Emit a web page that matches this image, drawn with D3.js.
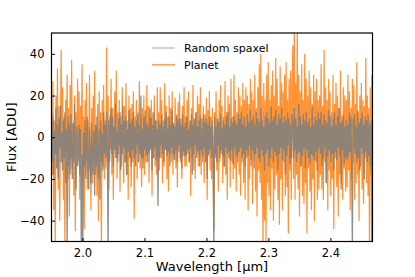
<!DOCTYPE html>
<html>
<head>
<meta charset="utf-8">
<script src="https://cdn.jsdelivr.net/npm/d3@7"></script>
<style>
    body { margin: 0; background: #fff; }
    text { font-family: "DejaVu Sans", sans-serif; fill: #000; }
</style>
</head>
<body>
<script>
const WAVE_START = 1.95;
const WAVE_END = 2.468;

const X_TICKS = [2.0, 2.1, 2.2, 2.3, 2.4];
const Y_TICKS = [-40, -20, 0, 20, 40];

const SERIES_NAMES = ['Random spaxel', 'Planet'];

const planetFlux = [
    12,-18,27,-35,8,-52,20,-8,33,-25,15,-40,5,42,-12,24,-30,10,-55,18,-6,30,-20,14,-38,25,-10,37,-15,6,-28,20,-45,12,-5,28,
    -10,22,-30,15,-8,35,-20,10,-44,18,-12,26,-25,8,-16,30,-6,-35,14,-22,20,-10,32,-18,5,-28,16,-40,22,-8,12,-55,18,-14,25,-20,
    8,-15,43,-12,20,-25,10,-6,28,-18,14,-30,6,22,-10,32,-20,12,-8,18,-26,10,-14,24,-6,-22,15,-12,26,-18,8,-30,20,-10,14,-24,
    16,-12,22,-39,10,-8,18,-20,12,-6,27,-15,9,-24,14,-10,20,-18,6,-12,25,-8,15,-22,10,-5,18,-28,12,-10,20,-14,8,-18,24,-9,
    12,-16,24,-10,18,-22,8,-14,26,-6,15,-20,10,-26,20,-8,14,-12,22,-18,6,-10,19,-15,11,-24,17,-7,21,-12,9,-20,15,-9,24,-14,
    10,-14,18,-8,22,-12,6,-28,14,-10,25,-16,8,-20,12,-6,20,-14,16,-10,24,-18,9,-12,15,-22,11,-8,19,-30,13,-9,22,-16,10,-20,
    14,-20,-45,12,-10,22,-16,8,-26,18,-12,25,-8,15,-22,10,-14,27,-18,12,-30,20,-10,16,-24,28,-12,10,-20,30,-15,18,-26,12,-8,24,
    -18,20,-28,15,-12,26,-22,18,-30,24,-10,20,-35,16,-20,28,-14,22,-32,18,-8,30,-26,14,-38,24,-16,35,-22,40,-30,20,-55,26,-40,18,
    -50,30,-22,36,-28,18,-35,25,-15,32,-40,20,-25,38,-18,28,-30,15,-42,34,-20,26,-35,22,-12,30,-28,36,-24,18,-46,28,-16,32,-30,24,
    44,-20,55,-30,26,-18,52,-25,30,-38,22,-14,35,-28,18,-32,40,-22,28,-46,20,-15,32,-26,24,-35,16,-20,30,-40,22,-12,28,-30,18,-25,
    20,-18,35,-25,15,-30,42,-12,24,-22,18,-35,28,-16,22,-28,12,-20,30,-44,16,-10,26,-24,20,-38,14,-18,32,-22,10,-30,24,-15,20,-26,
    18,-24,30,-16,22,-35,14,-20,28,-12,25,-30,16,-22,36,-18,12,-40,20,-14,26,-25,18,-32,15,-10,38,-22,20,-28,14,-55,24,-18,30,-20
];

const spaxelFlux = [
    5,-12,10,-18,3,-8,14,-15,6,-20,9,-5,15,-12,2,-16,8,-10,12,-22,4,-55,10,-14,6,-18,11,-8,-20,7,-12,16,-6,-25,5,-14,
    -10,6,-18,4,-55,-8,-55,2,-14,8,-20,-4,10,-16,-25,5,-12,-22,7,-9,-18,3,-28,6,-14,10,-10,-20,4,-30,8,-12,2,-16,12,-8,
    6,-10,12,-6,-55,8,-12,4,14,-8,10,-14,5,-6,16,-10,3,-12,9,-4,12,-16,6,-8,15,-5,8,-12,10,-18,4,-7,13,-10,7,-14,
    9,-6,12,-10,5,-14,8,-4,11,-12,6,-8,20,-10,4,-15,10,-6,13,-9,7,-12,5,-8,14,-6,9,-16,6,-10,12,-5,8,-11,4,-33,
    8,-10,6,-4,11,-8,5,-12,9,-6,12,-9,4,-7,10,-14,6,-5,13,-8,7,-11,5,-6,10,-12,8,-4,9,-10,6,-15,11,-7,5,-9,
    7,-9,10,-6,4,-12,8,-5,11,-18,6,-8,9,-4,12,-10,5,-7,8,-14,10,-6,4,-9,11,-5,7,-12,9,-20,6,-8,10,-6,5,-10,
    8,-6,-55,10,-8,5,-12,9,-4,7,-10,11,-6,4,-9,8,-14,6,-5,10,-8,12,-7,5,-11,9,-6,7,-13,10,-5,8,-9,6,-12,11,
    -7,9,-5,12,-10,6,-8,10,-14,5,-6,11,-9,7,-4,13,-11,8,-6,10,-15,6,-8,12,-5,9,-10,7,-12,14,-6,8,-9,5,-16,10,
    -8,12,-6,9,-14,7,-10,15,-5,8,-12,10,-7,13,-9,6,-16,11,-8,9,-5,14,-11,7,-6,10,-18,8,-9,12,-4,9,-13,6,-10,11,
    7,-10,14,-6,9,-12,5,-8,16,-7,10,-14,6,-9,11,-5,8,-15,12,-6,7,-10,9,-13,5,-8,15,-9,6,-11,10,-7,8,-16,12,-5,
    9,-8,12,-14,6,-10,11,-5,8,-22,7,-9,13,-6,10,-12,5,-8,9,-16,12,-7,6,-11,10,-5,14,-9,7,-25,8,-6,11,-13,5,-10,
    8,-11,6,-9,12,-7,10,-14,-55,9,-6,11,-8,5,-12,13,-10,7,-16,9,-5,12,-8,6,-20,10,-7,8,-12,11,-9,6,-14,8,-55,10
];

const width = 415;
const height = 277;
const margin = {top: 33, bottom: 35.5, left: 51.5, right: 42.5};

const svg = d3.select('body').append('svg')
    .attr('width', width)
    .attr('height', height);

const x = d3.scaleLinear()
    .domain([WAVE_START, WAVE_END])
    .range([margin.left, width - margin.right]);

const y = d3.scaleLinear()
    .domain([-50, 50])
    .range([height - margin.bottom, margin.top]);

function toPoints(values) {
    const step = (WAVE_END - WAVE_START) / (values.length - 1);
    return values.map((v, i) => ({w: WAVE_START + i * step, v: v}));
}

svg.append('clipPath').attr('id', 'plot-area')
  .append('rect')
    .attr('x', margin.left)
    .attr('y', margin.top)
    .attr('width', width - margin.left - margin.right)
    .attr('height', height - margin.top - margin.bottom);

const line = d3.line()
    .x(d => x(d.w))
    .y(d => y(d.v));

const plot = svg.append('g').attr('clip-path', 'url(#plot-area)');

plot.append('path')
    .datum(toPoints(planetFlux))
    .attr('fill', 'none')
    .attr('stroke', '#ff7f0e')
    .attr('stroke-opacity', 0.85)
    .attr('stroke-width', 1.2)
    .attr('d', line);

plot.append('path')
    .datum(toPoints(spaxelFlux))
    .attr('fill', 'none')
    .attr('stroke', '#808080')
    .attr('stroke-opacity', 0.88)
    .attr('stroke-width', 1.3)
    .attr('d', line);

// axes, ticks pointing inwards
svg.append('g')
    .attr('transform', `translate(0, ${height - margin.bottom})`)
    .call(d3.axisBottom(x).tickValues(X_TICKS).tickFormat(d3.format('.1f')).tickSizeInner(-3.5).tickSizeOuter(0).tickPadding(7))
    .call(g => g.select('.domain').remove())
    .call(g => g.selectAll('text').attr('font-size', 11.5).attr('font-family', '"DejaVu Sans", sans-serif'));

svg.append('g')
    .attr('transform', `translate(${margin.left}, 0)`)
    .call(d3.axisLeft(y).tickValues(Y_TICKS).tickFormat(d3.format('d')).tickSizeInner(-3.5).tickSizeOuter(0).tickPadding(7))
    .call(g => g.select('.domain').remove())
    .call(g => g.selectAll('text').attr('font-size', 11.5).attr('font-family', '"DejaVu Sans", sans-serif'));

// frame
svg.append('rect')
    .attr('x', margin.left)
    .attr('y', margin.top)
    .attr('width', width - margin.left - margin.right)
    .attr('height', height - margin.top - margin.bottom)
    .attr('fill', 'none')
    .attr('stroke', '#000')
    .attr('stroke-width', 1.2);

svg.append('text')
    .attr('x', (margin.left + width - margin.right) / 2)
    .attr('y', 271)
    .attr('text-anchor', 'middle')
    .attr('font-size', 13)
    .text('Wavelength [µm]');

svg.append('text')
    .attr('transform', `translate(16, ${(margin.top + height - margin.bottom) / 2}) rotate(-90)`)
    .attr('text-anchor', 'middle')
    .attr('font-size', 13)
    .text('Flux [ADU]');

// legend
const legendColors = [['#808080', 0.45], ['#ff7f0e', 0.75]];
const legend = svg.append('g').attr('transform', 'translate(152, 48)');

legend.selectAll('g')
    .data(SERIES_NAMES)
    .join('g')
    .attr('transform', (d, i) => `translate(0, ${i * 16.8})`)
    .each(function(d, i) {
        const g = d3.select(this);
        g.append('line')
            .attr('x1', 0).attr('x2', 23)
            .attr('stroke', legendColors[i][0])
            .attr('stroke-opacity', legendColors[i][1])
            .attr('stroke-width', 1.5);
        g.append('text')
            .attr('x', 32)
            .attr('dy', '0.35em')
            .attr('font-size', 11)
            .text(d);
    });
</script>
</body>
</html>
